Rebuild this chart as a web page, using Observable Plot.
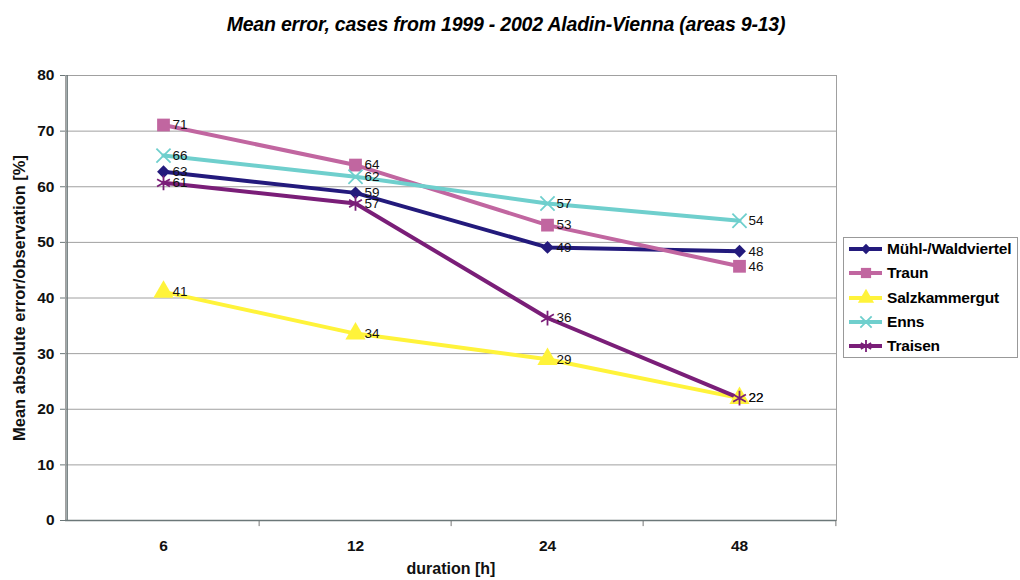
<!DOCTYPE html>
<html>
<head>
<meta charset="utf-8">
<script src="https://cdn.jsdelivr.net/npm/d3@7"></script>
<script src="https://cdn.jsdelivr.net/npm/@observablehq/plot@0.6"></script>
<style>
  html, body { margin: 0; padding: 0; background: #fff; }
  #wrap { position: relative; width: 1020px; height: 580px; font-family: "Liberation Sans", Arial, sans-serif; }
  #title { height: 35px; position: relative; }
  #title span { position: absolute; left: 0; width: 1012px; top: 13px; text-align: center; font-size: 19.5px; font-weight: bold; font-style: italic; letter-spacing: -0.2px; white-space: nowrap; }
  #legend { position: absolute; left: 843px; top: 237px; width: 175px; height: 121px; border: 1px solid #999; box-sizing: border-box; background: #fff; }
  .item { position: absolute; left: 5px; height: 20px; display: flex; align-items: center; font-weight: bold; font-size: 15.5px; white-space: nowrap; letter-spacing: -0.2px; }
  .item svg { margin-right: 4px; }
</style>
</head>
<body>
<div id="wrap">
  <div id="title"><span>Mean error, cases from 1999 - 2002 Aladin-Vienna (areas 9-13)</span></div>
  <div id="chart"></div>
  <div id="legend"></div>
</div>
<script>
const durations = ["6", "12", "24", "48"];
const seriesNames = ["Mühl-/Waldviertel", "Traun", "Salzkammergut", "Enns", "Traisen"];
const muehlWaldviertel = [62.7, 58.9, 49.1, 48.4];
const traun = [71.1, 63.9, 53.1, 45.7];
const salzkammergut = [41.1, 33.6, 29.0, 22.0];
const enns = [65.6, 61.8, 57.0, 53.9];
const traisen = [60.7, 57.0, 36.4, 22.0];
const yTicks = [0, 10, 20, 30, 40, 50, 60, 70, 80];

const colors = ["#231A7C", "#C166A0", "#FFF33A", "#6FCFCD", "#7A1E78"];
const symbols = ["diamond2", "square", "triangle", "times", "asterisk"];
const symbolR = [5.8, 7.2, 7.5, 6.5, 7];
const strokeSym = [false, false, false, true, true];

const valueSets = [muehlWaldviertel, traun, salzkammergut, enns, traisen];
const rows = [];
seriesNames.forEach((s, i) => valueSets[i].forEach((v, j) => rows.push({series: s, si: i, duration: durations[j], value: v})));

const W = 1020, H = 545;
const mL = 65, mR = 184, mT = 40, mB = 60;
const bw = (W - mL - mR) / durations.length;
const FONT = "Liberation Sans, Arial, sans-serif";

const marks = [
  Plot.ruleY(yTicks.filter(d => d > 0), {stroke: "#a0a0a0", strokeWidth: 1}),
  Plot.frame({stroke: "#a0a0a0"})
];
// tick marks at category band boundaries
marks.push(Plot.ruleX(durations.slice(1), {x: d => d, y1: 0, y2: -1.1, dx: -bw / 2, stroke: "#777"}));
marks.push(Plot.ruleX(["48"], {x: d => d, y1: 0, y2: -1.1, dx: bw / 2, stroke: "#777"}));
marks.push(Plot.ruleX(["6"], {x: d => d, y1: 0, y2: 80, dx: -bw / 2, stroke: "#6b7778", strokeWidth: 1.5}));
marks.push(Plot.ruleY([0], {stroke: "#6b7778", strokeWidth: 1.5}));

seriesNames.forEach((s, i) => {
  const data = rows.filter(r => r.si === i);
  marks.push(Plot.line(data, {x: "duration", y: "value", stroke: colors[i], strokeWidth: 4}));
});
seriesNames.forEach((s, i) => {
  const data = rows.filter(r => r.si === i);
  marks.push(Plot.dot(data, strokeSym[i]
    ? {x: "duration", y: "value", symbol: () => symbols[i], r: symbolR[i], stroke: colors[i], strokeWidth: 1.8, fill: "none"}
    : {x: "duration", y: "value", symbol: () => symbols[i], r: symbolR[i], fill: colors[i], stroke: "none"}));
});
seriesNames.forEach((s, i) => {
  const data = rows.filter(r => r.si === i);
  marks.push(Plot.text(data, {x: "duration", y: "value", text: d => d3.format(".0f")(d.value), textAnchor: "start", dx: 9, fill: "#111", fontSize: 13.5, fontFamily: FONT}));
});

marks.push(Plot.axisY({ticks: yTicks, tickSize: 5, tickPadding: 6, fontSize: 15.5, fontWeight: "bold", stroke: "#6b7778", label: null}));
marks.push(Plot.axisX({tickSize: 0, tickPadding: 19, fontSize: 15.5, fontWeight: "bold", label: null}));
marks.push(Plot.text(["duration [h]"], {frameAnchor: "bottom", dy: 53, fontSize: 16, fontWeight: "bold"}));
marks.push(Plot.text(["Mean absolute error/observation [%]"], {frameAnchor: "left", textAnchor: "middle", dx: -46, rotate: -90, fontSize: 16.5, fontWeight: "bold"}));

const plot = Plot.plot({
  width: W, height: H,
  marginLeft: mL, marginRight: mR, marginTop: mT, marginBottom: mB,
  style: {fontFamily: FONT, background: "#fff", color: "#111", overflow: "visible"},
  x: {type: "band", domain: durations, padding: 0},
  y: {domain: [0, 80]},
  marks
});
document.getElementById("chart").appendChild(plot);

// legend
const legend = document.getElementById("legend");
const tops = [1, 25, 50, 74, 98];
const symMap = {diamond2: d3.symbolDiamond2, square: d3.symbolSquare, triangle: d3.symbolTriangle, times: d3.symbolTimes, asterisk: d3.symbolAsterisk};
seriesNames.forEach((s, i) => {
  const item = document.createElement("div");
  item.className = "item";
  item.style.top = tops[i] + "px";
  const svg = d3.create("svg").attr("width", 34).attr("height", 20);
  svg.append("line").attr("x1", 0).attr("x2", 33).attr("y1", 10).attr("y2", 10).attr("stroke", colors[i]).attr("stroke-width", 4);
  const r = symbolR[i] * 0.8;
  const p = svg.append("path").attr("transform", "translate(17,10)").attr("d", d3.symbol(symMap[symbols[i]], r * r * Math.PI)());
  if (strokeSym[i]) p.attr("fill", "none").attr("stroke", colors[i]).attr("stroke-width", 1.8);
  else p.attr("fill", colors[i]);
  item.appendChild(svg.node());
  const t = document.createElement("span");
  t.textContent = s;
  item.appendChild(t);
  legend.appendChild(item);
});
</script>
</body>
</html>
